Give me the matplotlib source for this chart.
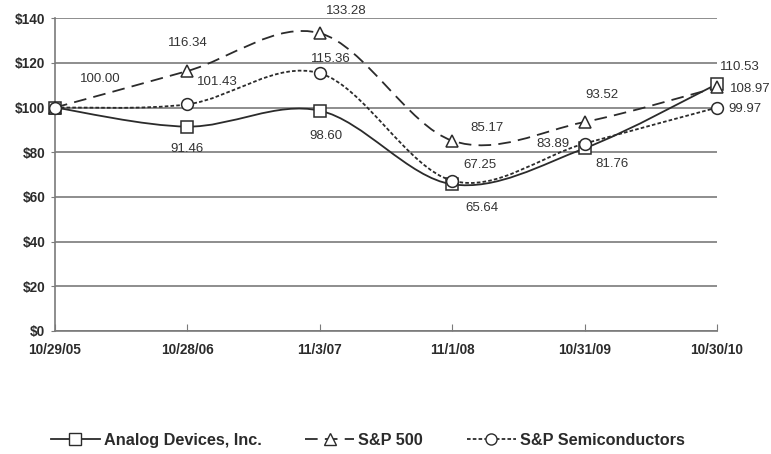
import matplotlib
matplotlib.use("Agg")
import matplotlib.pyplot as plt
import numpy as np
from matplotlib.lines import Line2D
from matplotlib.path import Path
from matplotlib.patches import PathPatch

dates = ["10/29/05", "10/28/06", "11/3/07", "11/1/08", "10/31/09", "10/30/10"]
adi = [100.00, 91.46, 98.60, 65.64, 81.76, 110.53]
sp500 = [100.00, 116.34, 133.28, 85.17, 93.52, 108.97]
semis = [100.00, 101.43, 115.36, 67.25, 83.89, 99.97]
y_ticks = [0, 20, 40, 60, 80, 100, 120, 140]

# label offsets in pixels (dx, dy) from each point
adi_off = [(45, 29), (0, -22), (6, -25), (30, -24), (27, -16), (23, 17)]
sp_off = [None, (0, 28), (26, 22), (35, 13), (17, 27), (33, -2)]
semi_off = [None, (30, 22), (11, 14), (28, 16), (-32, 0), (28, -1)]

font = ["Liberation Sans", "DejaVu Sans"]
ink = "#2b2b2b"
grid = "#7a7a7a"


def smooth_path(x, y):
    # cubic bezier (catmull-rom style) through the points, like a smoothed line chart
    pts = np.column_stack([x, y]).astype(float)
    ext = np.vstack([pts[0], pts, pts[-1]])
    verts = [pts[0]]
    codes = [Path.MOVETO]
    for i in range(1, len(ext) - 2):
        p0, p1, p2, p3 = ext[i - 1], ext[i], ext[i + 1], ext[i + 2]
        c1 = p1 + (p2 - p0) / 6.0
        c2 = p2 - (p3 - p1) / 6.0
        verts += [c1, c2, p2]
        codes += [Path.CURVE4] * 3
    return Path(verts, codes)


fig = plt.figure(figsize=(7.71, 4.54), dpi=100)
ax = fig.add_axes([0.0713, 0.271, 0.8587, 0.689])

x = np.arange(len(dates))
series = [
    (adi, "-", "s", "Analog Devices, Inc.", adi_off),
    (sp500, (0, (7, 4)), "^", "S&P 500", sp_off),
    (semis, (0, (2, 1.2)), "o", "S&P Semiconductors", semi_off),
]

handles = []
for vals, ls, mk, name, offs in series:
    patch = PathPatch(smooth_path(x, vals), facecolor="none", edgecolor=ink,
                      linewidth=1.3, linestyle=ls, zorder=3, clip_on=False)
    ax.add_patch(patch)
    ax.plot(x, vals, linestyle="none", marker=mk, markersize=8.5,
            markerfacecolor="white", markeredgecolor=ink, markeredgewidth=1.1,
            zorder=4, clip_on=False)
    for xi, v, off in zip(x, vals, offs):
        if off is None:
            continue
        ax.annotate(f"{v:.2f}", (xi, v), xytext=off, textcoords="offset pixels",
                    ha="center", va="center", fontsize=9.5, color="#333333",
                    family=font, zorder=5)
    handles.append(Line2D([], [], color=ink, linestyle=ls, linewidth=1.3, marker=mk,
                          markersize=8, markerfacecolor="white",
                          markeredgecolor=ink, label=name))

ax.set_xlim(0, len(dates) - 1)
ax.set_ylim(0, 140)
ax.set_yticks(y_ticks)
ax.set_yticklabels([f"${v}" for v in y_ticks])
ax.set_xticks(x)
ax.set_xticklabels(dates)
ax.yaxis.grid(True, color=grid, linewidth=1.2)
ax.set_axisbelow(True)

for side in ["top", "right"]:
    ax.spines[side].set_visible(False)
for side in ["left", "bottom"]:
    ax.spines[side].set_color(grid)
    ax.spines[side].set_linewidth(1.2)

ax.tick_params(axis="x", direction="in", length=5, color=grid, pad=9)
ax.tick_params(axis="y", direction="out", length=3, color=grid, pad=4)
for lab in ax.get_xticklabels() + ax.get_yticklabels():
    lab.set_fontfamily(font)
    lab.set_fontweight("bold")
    lab.set_fontsize(9.8)
    lab.set_color(ink)

fig.legend(handles=handles, loc="center", bbox_to_anchor=(0.477, 0.03), ncol=3,
           frameon=False, handlelength=3.0, columnspacing=2.7, handletextpad=0.25,
           prop={"family": font, "weight": "bold", "size": 11.7},
           labelcolor=ink)

fig.savefig("out.png", dpi=100)
